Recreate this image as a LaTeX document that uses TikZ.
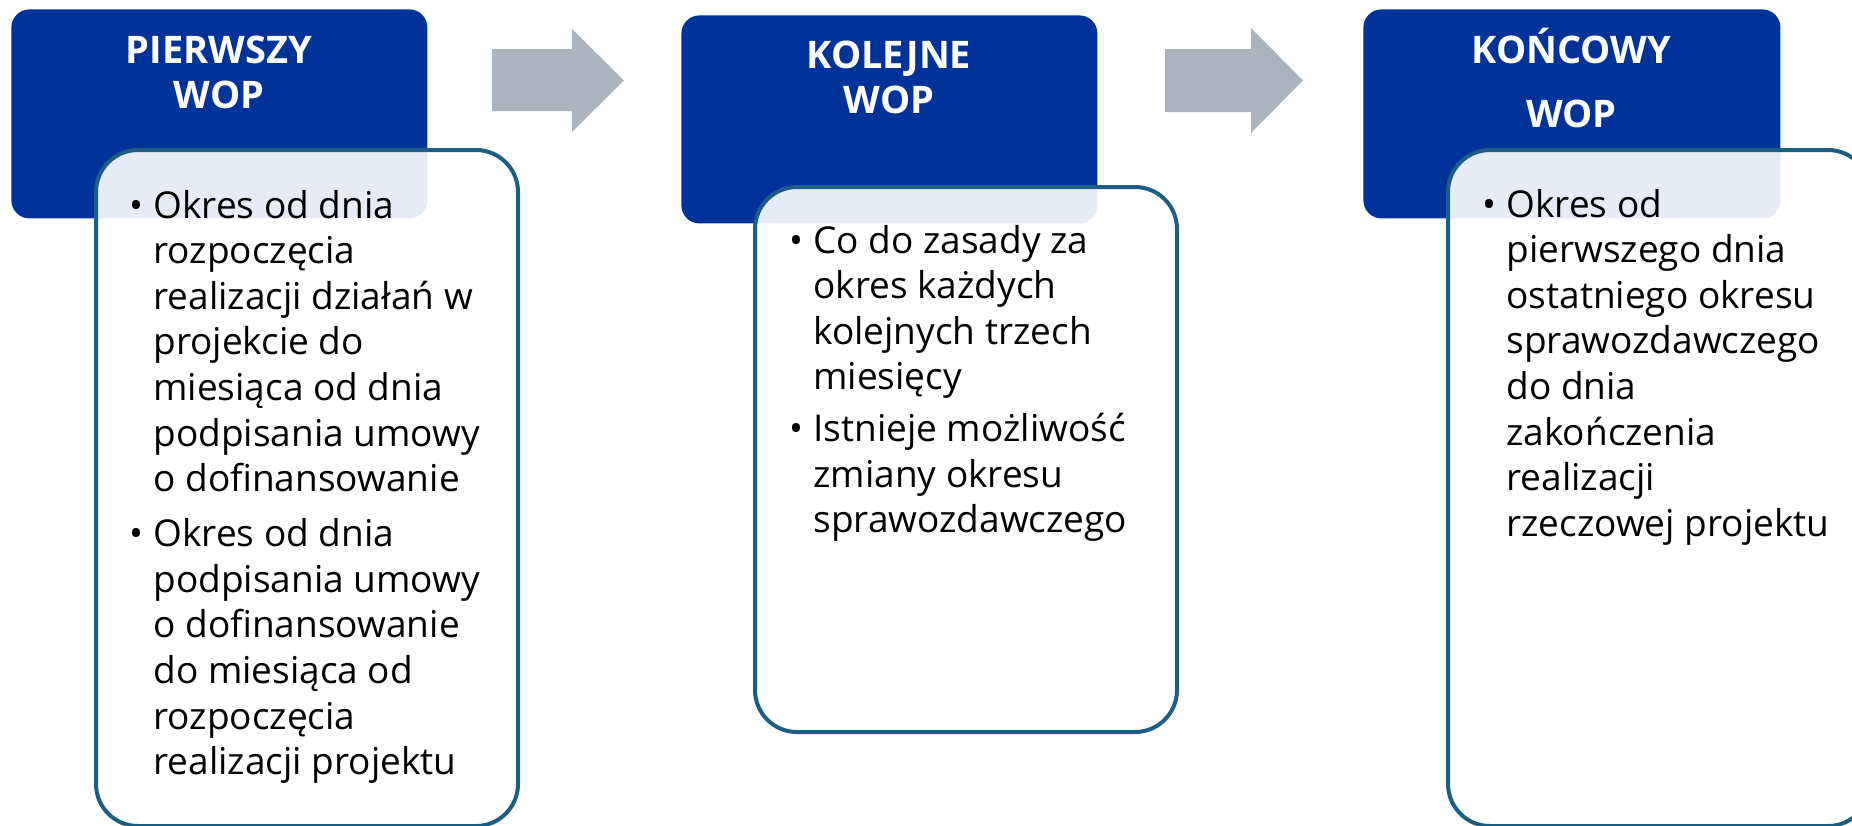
\documentclass[tikz,border=0pt]{standalone}
\usepackage{fontspec}
\setmainfont{Open Sans}
\definecolor{wopblue}{HTML}{003399}
\definecolor{wopline}{HTML}{1D5E84}
\definecolor{woparrow}{HTML}{A9B4BF}
\begin{document}
\begin{tikzpicture}[x=0.5pt,y=-0.5pt,
  hdrbox/.style={fill=wopblue, draw=none, rounded corners=9pt, inner sep=0pt,
    minimum width=208pt, minimum height=104.5pt, anchor=north west},
  infobox/.style={draw=wopline, line width=2pt, fill=white, fill opacity=0.9,
    rounded corners=21pt, inner sep=0pt, minimum width=211pt, anchor=north west},
  hdrtext/.style={anchor=base, inner sep=0pt, text=white,
    font=\bfseries\fontsize{19}{22.5}\selectfont},
  bodytext/.style={anchor=base west, inner sep=0pt, text=black,
    font=\fontsize{18.5}{22.8}\selectfont},
  blockarrow/.style={fill=woparrow, draw=none}]
\useasboundingbox (0,0) rectangle (1852,825);
\clip (0,0) rectangle (1852,825);

% header boxes
\node[hdrbox] (h1) at (11,9) {};
\node[hdrbox, minimum height=104pt] (h2) at (681,15) {};
\node[hdrbox, minimum width=208.5pt] (h3) at (1363,9) {};

% header texts
\node[hdrtext] (t1) at (219,63) {\begin{tabular}[t]{@{}c@{}}PIERWSZY\\WOP\end{tabular}};
\node[hdrtext] (t2) at (889,68) {\begin{tabular}[t]{@{}c@{}}KOLEJNE\\WOP\end{tabular}};
\node[hdrtext] (t3) at (1571.5,63) {\begin{tabular}[t]{@{}c@{}}KOŃCOWY\\[9.5pt]WOP\end{tabular}};

% block arrows
\fill[blockarrow] (492,49) -- (572,49) -- (572,29) -- (624,80.5) -- (572,132) -- (572,111) -- (492,111) -- cycle;
\fill[blockarrow] (1165,49) -- (1251,49) -- (1251,28) -- (1303,80.5) -- (1251,133) -- (1251,112) -- (1165,112) -- cycle;

% info boxes
\node[infobox, minimum height=338pt] (b1) at (94,148) {};
\node[infobox, minimum height=272.5pt] (b2) at (753,185) {};
\node[infobox, minimum height=338pt] (b3) at (1446,148) {};

% body texts
\node[bodytext] (x1) at (129,218) {\begin{tabular}[t]{@{}p{12pt}@{}l@{}}
\textbullet & Okres od dnia\\
 & rozpoczęcia\\
 & realizacji działań w\\
 & projekcie do\\
 & miesiąca od dnia\\
 & podpisania umowy\\
 & o dofinansowanie\\[4.7pt]
\textbullet & Okres od dnia\\
 & podpisania umowy\\
 & o dofinansowanie\\
 & do miesiąca od\\
 & rozpoczęcia\\
 & realizacji projektu
\end{tabular}};

\node[bodytext] (x2) at (789,253) {\begin{tabular}[t]{@{}p{12pt}@{}l@{}}
\textbullet & Co do zasady za\\
 & okres każdych\\
 & kolejnych trzech\\
 & miesięcy\\[3pt]
\textbullet & Istnieje możliwość\\
 & zmiany okresu\\
 & sprawozdawczego
\end{tabular}};

\node[bodytext] (x3) at (1482,217) {\begin{tabular}[t]{@{}p{12pt}@{}l@{}}
\textbullet & Okres od\\
 & pierwszego dnia\\
 & ostatniego okresu\\
 & sprawozdawczego\\
 & do dnia\\
 & zakończenia\\
 & realizacji\\
 & rzeczowej projektu
\end{tabular}};
\end{tikzpicture}
\end{document}
